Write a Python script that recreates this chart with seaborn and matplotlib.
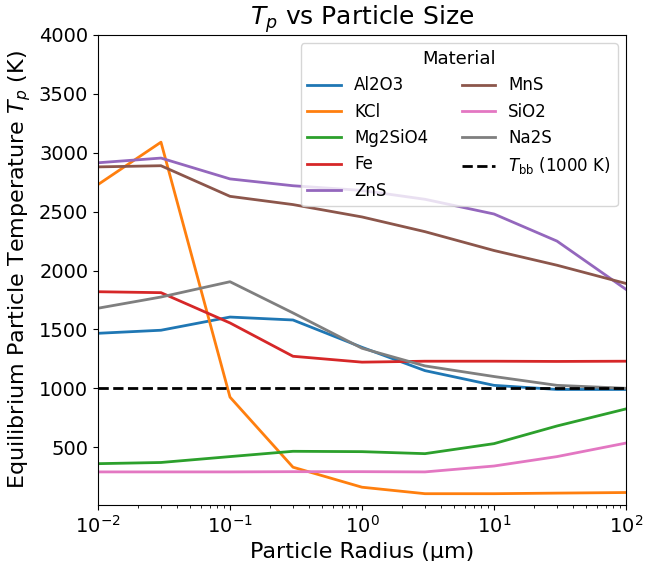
import matplotlib
matplotlib.use("Agg")
import matplotlib.pyplot as plt
import seaborn as sns
import pandas as pd

radius_um = [0.01, 0.03, 0.1, 0.3, 1, 3, 10, 30, 100]

materials = ["Al2O3", "KCl", "Mg2SiO4", "Fe", "ZnS", "MnS", "SiO2", "Na2S"]

al2o3 = [1467, 1493, 1605, 1580, 1348, 1150, 1025, 990, 990]
kcl = [2730, 3090, 925, 330, 160, 105, 105, 110, 115]
mg2sio4 = [360, 370, 420, 465, 462, 445, 530, 680, 825]
fe = [1820, 1812, 1555, 1272, 1222, 1230, 1230, 1228, 1230]
zns = [2915, 2955, 2778, 2720, 2680, 2605, 2480, 2250, 1840]
mns = [2880, 2890, 2630, 2560, 2455, 2330, 2170, 2045, 1890]
sio2 = [290, 290, 290, 292, 292, 290, 340, 420, 535]
na2s = [1680, 1775, 1905, 1640, 1340, 1190, 1100, 1025, 1000]

t_bb = 1000

series = [al2o3, kcl, mg2sio4, fe, zns, mns, sio2, na2s]
rows = []
for name, vals in zip(materials, series):
    for r, t in zip(radius_um, vals):
        rows.append({"radius": r, "Tp": t, "Material": name})
df = pd.DataFrame(rows)

fig = plt.figure(figsize=(6.65, 5.61), dpi=100)
ax = fig.add_axes([98 / 665, 1 - 505 / 561, (626 - 98) / 665, (505 - 35) / 561])

sns.lineplot(data=df, x="radius", y="Tp", hue="Material", hue_order=materials,
             palette="tab10", linewidth=2, ax=ax)
ax.axhline(t_bb, color="black", linestyle="--", linewidth=2,
           label=r"$T_{\rm bb}$ (1000 K)")

ax.set_xscale("log")
ax.set_xlim(0.01, 100)
ax.set_ylim(9, 4000)
ax.set_yticks([500, 1000, 1500, 2000, 2500, 3000, 3500, 4000])
ax.tick_params(labelsize=14)
ax.set_xlabel("Particle Radius (µm)", fontsize=16)
ax.set_ylabel(r"Equilibrium Particle Temperature $T_p$ (K)", fontsize=16)
ax.set_title(r"$T_p$ vs Particle Size", fontsize=18)

ax.legend(title="Material", ncol=2, loc="upper right", fontsize=12,
          title_fontsize=13)

fig.savefig("out.png", dpi=100)
